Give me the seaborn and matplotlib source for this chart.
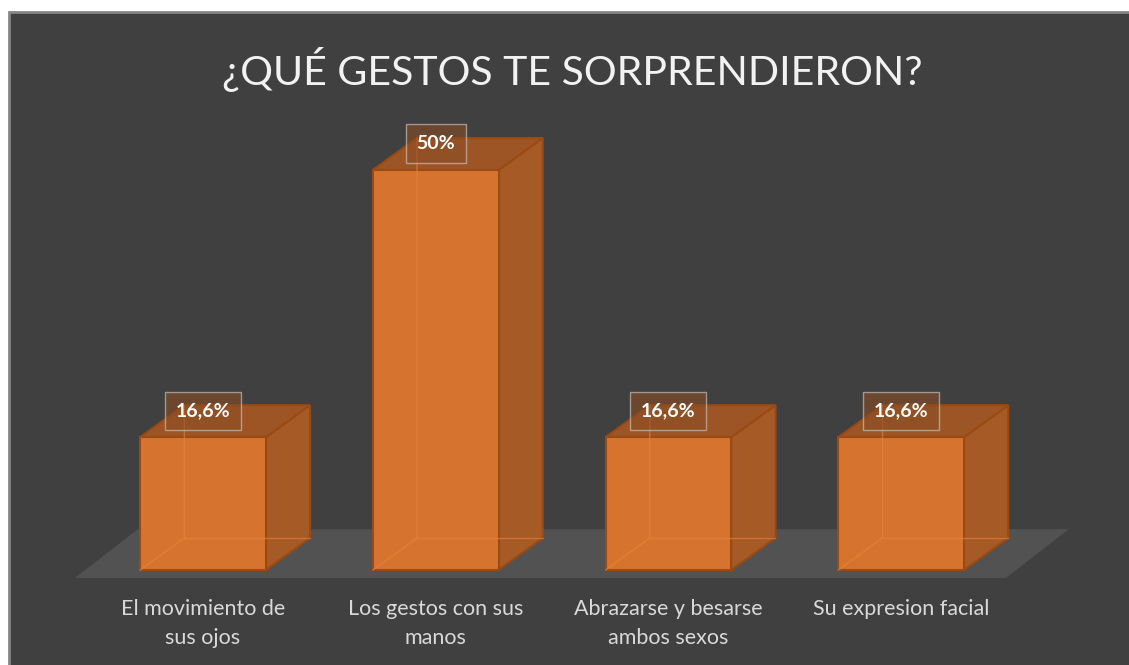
import matplotlib
matplotlib.use('Agg')
import matplotlib.pyplot as plt
from matplotlib.patches import Polygon, Rectangle
import seaborn as sns
import pandas as pd

# chart data
categories = ['El movimiento de\nsus ojos', 'Los gestos con sus\nmanos',
              'Abrazarse y besarse\nambos sexos', 'Su expresion facial']
values = [16.6, 50, 16.6, 16.6]
value_labels = ['16,6%', '50%', '16,6%', '16,6%']

BG = '#404040'
FLOOR = '#525252'
FRONT = '#d6742f'
SIDE = '#a65a26'
TOP = '#9e5525'
EDGE = '#9a4a12'

sns.set_style('dark')
plt.rcParams['font.family'] = ['Lato', 'DejaVu Sans']

df = pd.DataFrame({'Gesto': categories, 'Porcentaje': values})

fig = plt.figure(figsize=(11.29, 6.65), dpi=100)
fig.patch.set_facecolor('white')
# dark chart area with grey border (white margin top/left like the screenshot)
fig.patches.append(Rectangle((9 / 1129, -0.01), 1.0, 1.01 - 12 / 665, transform=fig.transFigure,
                             facecolor=BG, edgecolor='#858585', linewidth=2, zorder=-10))

ax = fig.add_axes([0, (665 - 578) / 665, 1, (578 - 100) / 665])
ax.set_facecolor('none')
sns.barplot(data=df, x='Gesto', y='Porcentaje', ax=ax, width=0.54, color=FRONT,
            edgecolor=EDGE, linewidth=1.5, saturation=1, zorder=3)
ax.set_xlim(-0.872, 3.979)
ax.set_ylim(-1, 58.75)

# 3D depth in data units
dx, dy = 0.19, 4.0
fdx, fdy = 0.27, 6.1
n = len(categories)

# floor
floor = Polygon([(-0.55, -1), (n - 0.55, -1), (n - 0.55 + fdx, -1 + fdy), (-0.55 + fdx, -1 + fdy)],
                closed=True, facecolor=FLOOR, edgecolor='none', zorder=1, clip_on=False)
ax.add_patch(floor)

for bar, lab in zip(ax.containers[0], value_labels):
    x, w, h = bar.get_x(), bar.get_width(), bar.get_height()
    side = Polygon([(x + w, 0), (x + w + dx, dy), (x + w + dx, h + dy), (x + w, h)],
                   closed=True, facecolor=SIDE, edgecolor=EDGE, linewidth=1.5, zorder=2)
    top = Polygon([(x, h), (x + w, h), (x + w + dx, h + dy), (x + dx, h + dy)],
                  closed=True, facecolor=TOP, edgecolor=EDGE, linewidth=1.5, zorder=2)
    ax.add_patch(side)
    ax.add_patch(top)
    # faint hidden edges seen through the front face
    ax.plot([x, x + dx, x + dx], [0, dy, h + dy], color='#e8843c', lw=1, alpha=0.6, zorder=4)
    ax.plot([x + dx, x + w + dx], [dy, dy], color='#e8843c', lw=1, alpha=0.6, zorder=4)
    ax.text(x + w / 2, h + 3.3, lab, ha='center', va='center', color='white',
            fontsize=14, fontweight='bold', zorder=6,
            bbox=dict(boxstyle='square,pad=0.55', facecolor='#8a4d26', alpha=0.6,
                      edgecolor='#d0d0d0', linewidth=1))

ax.set_xlabel('')
ax.set_ylabel('')
ax.set_yticks([])
ax.tick_params(axis='x', length=0, pad=15, labelsize=15.5, labelcolor='#d9d9d9')
for t in ax.get_xticklabels():
    t.set_linespacing(1.6)
    t.set_va('top')
sns.despine(ax=ax, left=True, bottom=True)
ax.grid(False)

fig.text(0.507, 0.895, '¿QUÉ GESTOS TE SORPRENDIERON?', ha='center', va='center',
         color='#f2f2f2', fontsize=29.5)

plt.savefig('out.png', dpi=100, facecolor=fig.get_facecolor())
plt.close()
